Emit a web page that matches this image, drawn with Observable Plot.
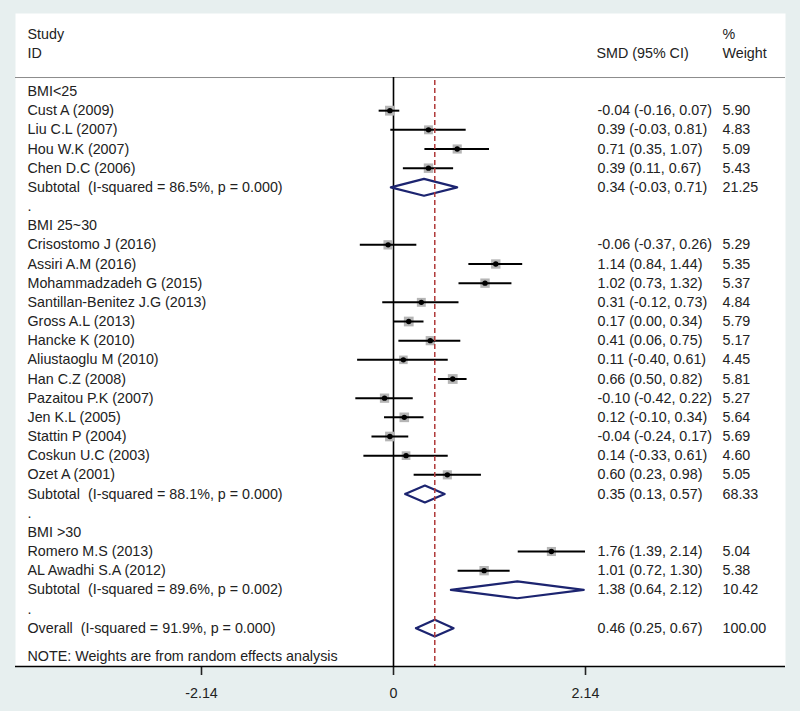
<!DOCTYPE html>
<html>
<head>
<meta charset="utf-8">
<script src="https://cdn.jsdelivr.net/npm/d3@7"></script>
<script src="https://cdn.jsdelivr.net/npm/@observablehq/plot@0.6"></script>
<style>
  body { margin: 0; background: #e7efef; }
  #chart svg text { white-space: pre; }
</style>
</head>
<body>
<div id="chart"></div>
<script>
// ---------- data ----------
const groupNames = ["BMI<25", "BMI 25~30", "BMI >30"];

const studyNames = [
  "Cust A (2009)", "Liu C.L (2007)", "Hou W.K (2007)", "Chen D.C (2006)",
  "Crisostomo J (2016)", "Assiri A.M (2016)", "Mohammadzadeh G (2015)", "Santillan-Benitez J.G (2013)",
  "Gross A.L (2013)", "Hancke K (2010)", "Aliustaoglu M (2010)", "Han C.Z (2008)",
  "Pazaitou P.K (2007)", "Jen K.L (2005)", "Stattin P (2004)", "Coskun U.C (2003)", "Ozet A (2001)",
  "Romero M.S (2013)", "AL Awadhi S.A (2012)"
];
const studyGroup  = [0,0,0,0, 1,1,1,1,1,1,1,1,1,1,1,1,1, 2,2];
const studySMD    = [-0.04, 0.39, 0.71, 0.39, -0.06, 1.14, 1.02, 0.31, 0.17, 0.41, 0.11, 0.66, -0.10, 0.12, -0.04, 0.14, 0.60, 1.76, 1.01];
const studyLower  = [-0.16, -0.03, 0.35, 0.11, -0.37, 0.84, 0.73, -0.12, 0.00, 0.06, -0.40, 0.50, -0.42, -0.10, -0.24, -0.33, 0.23, 1.39, 0.72];
const studyUpper  = [0.07, 0.81, 1.07, 0.67, 0.26, 1.44, 1.32, 0.73, 0.34, 0.75, 0.61, 0.82, 0.22, 0.34, 0.17, 0.61, 0.98, 2.14, 1.30];
const studyWeight = [5.90, 4.83, 5.09, 5.43, 5.29, 5.35, 5.37, 4.84, 5.79, 5.17, 4.45, 5.81, 5.27, 5.64, 5.69, 4.60, 5.05, 5.04, 5.38];

const subtotalLabels = [
  "Subtotal  (I-squared = 86.5%, p = 0.000)",
  "Subtotal  (I-squared = 88.1%, p = 0.000)",
  "Subtotal  (I-squared = 89.6%, p = 0.002)"
];
const subtotalSMD    = [0.34, 0.35, 1.38];
const subtotalLower  = [-0.03, 0.13, 0.64];
const subtotalUpper  = [0.71, 0.57, 2.12];
const subtotalWeight = [21.25, 68.33, 10.42];

const overallLabel  = "Overall  (I-squared = 91.9%, p = 0.000)";
const overallSMD    = 0.46;
const overallLower  = 0.25;
const overallUpper  = 0.67;
const overallWeight = 100.00;

const headerLeft  = ["Study", "ID"];
const headerCI    = ["", "SMD (95% CI)"];
const headerW     = ["%", "Weight"];
const noteText    = "NOTE: Weights are from random effects analysis";

const xTicks      = [-2.14, 0, 2.14];
const xTickLabels = ["-2.14", "0", "2.14"];

// ---------- build row table ----------
const rows = [];
let r = 0;
groupNames.forEach((g, gi) => {
  rows.push({row: r++, label: g, kind: "header"});
  studyNames.forEach((n, i) => {
    if (studyGroup[i] === gi) rows.push({row: r++, label: n, kind: "study",
      est: studySMD[i], lo: studyLower[i], hi: studyUpper[i], w: studyWeight[i]});
  });
  rows.push({row: r++, label: subtotalLabels[gi], kind: "pooled",
    est: subtotalSMD[gi], lo: subtotalLower[gi], hi: subtotalUpper[gi], w: subtotalWeight[gi]});
  rows.push({row: r++, label: ".", kind: "gap"});
});
rows.push({row: r++, label: overallLabel, kind: "pooled",
  est: overallSMD, lo: overallLower, hi: overallUpper, w: overallWeight});
const noteRow = r + 0.5;
const yBottom = r + 1;
const headerRows = [-3, -2];
const headerLineRow = -0.73;

const studies = rows.filter(d => d.kind === "study");
const pooled  = rows.filter(d => d.kind === "pooled");
const withCI  = rows.filter(d => d.est !== undefined);

const h = 0.44;
const diamondPts = pooled.flatMap((d, i) => [
  {id: i, x: d.lo,  y: d.row},
  {id: i, x: d.est, y: d.row - h},
  {id: i, x: d.hi,  y: d.row},
  {id: i, x: d.est, y: d.row + h},
  {id: i, x: d.lo,  y: d.row}
]);

const f2 = v => v.toFixed(2);
const headers = headerRows.map((row, i) => ({row, left: headerLeft[i], ci: headerCI[i], w: headerW[i]}));

const chart = Plot.plot({
  width: 800,
  height: 711,
  marginLeft: 15,
  marginRight: 15,
  marginTop: 13,
  marginBottom: 45,
  style: {background: "transparent", fontFamily: "'Liberation Sans', Arial, sans-serif", fontSize: "14.3px", color: "#222"},
  x: {domain: [-4.213, 4.369]},
  y: {domain: [-4.07, yBottom], reverse: true, axis: null},
  r: {type: "sqrt", domain: [0, 6], range: [0, 5.6]},
  marks: [
    Plot.frame({fill: "white", stroke: "none"}),
    Plot.ruleY([headerLineRow], {stroke: "#8c8c8c", strokeWidth: 1}),
    Plot.ruleX([0], {y1: headerLineRow, y2: yBottom, stroke: "black", strokeWidth: 1.6}),
    Plot.dot(studies, {x: "est", y: "row", r: "w", symbol: "square", fill: "#b5b5b5", stroke: "none"}),
    Plot.ruleY(studies, {x1: "lo", x2: "hi", y: "row", stroke: "black", strokeWidth: 2}),
    Plot.dot(studies, {x: "est", y: "row", r: 2.7, fill: "black", stroke: "none"}),
    Plot.line(diamondPts, {x: "x", y: "y", z: "id", stroke: "#1c2470", strokeWidth: 2.2, fill: "none"}),
    Plot.ruleX([overallSMD], {y1: headerLineRow + 0.15, y2: yBottom, stroke: "#b03a3a", strokeWidth: 1.5, strokeDasharray: "5,3"}),
    Plot.text(headers, {y: "row", text: "left", frameAnchor: "left", dx: 12, textAnchor: "start"}),
    Plot.text(headers, {y: "row", text: "ci", frameAnchor: "left", dx: 581, textAnchor: "start"}),
    Plot.text(headers, {y: "row", text: "w", frameAnchor: "left", dx: 707, textAnchor: "start"}),
    Plot.text(rows, {y: "row", text: "label", frameAnchor: "left", dx: 12, textAnchor: "start"}),
    Plot.text(withCI, {y: "row", text: d => `${f2(d.est)} (${f2(d.lo)}, ${f2(d.hi)})`, frameAnchor: "left", dx: 582, textAnchor: "start"}),
    Plot.text(withCI, {y: "row", text: d => f2(d.w), frameAnchor: "left", dx: 707, textAnchor: "start"}),
    Plot.text([noteText], {y: [noteRow], text: d => d, frameAnchor: "left", dx: 12, textAnchor: "start"}),
    Plot.axisX({ticks: xTicks, tickFormat: d => xTickLabels[xTicks.indexOf(d)], tickSize: 9, tickPadding: 12, strokeWidth: 1.6, fontSize: 14.3, label: null}),
    Plot.ruleY([yBottom], {stroke: "black", strokeWidth: 1.6})
  ]
});
document.getElementById("chart").append(chart);
</script>
</body>
</html>
